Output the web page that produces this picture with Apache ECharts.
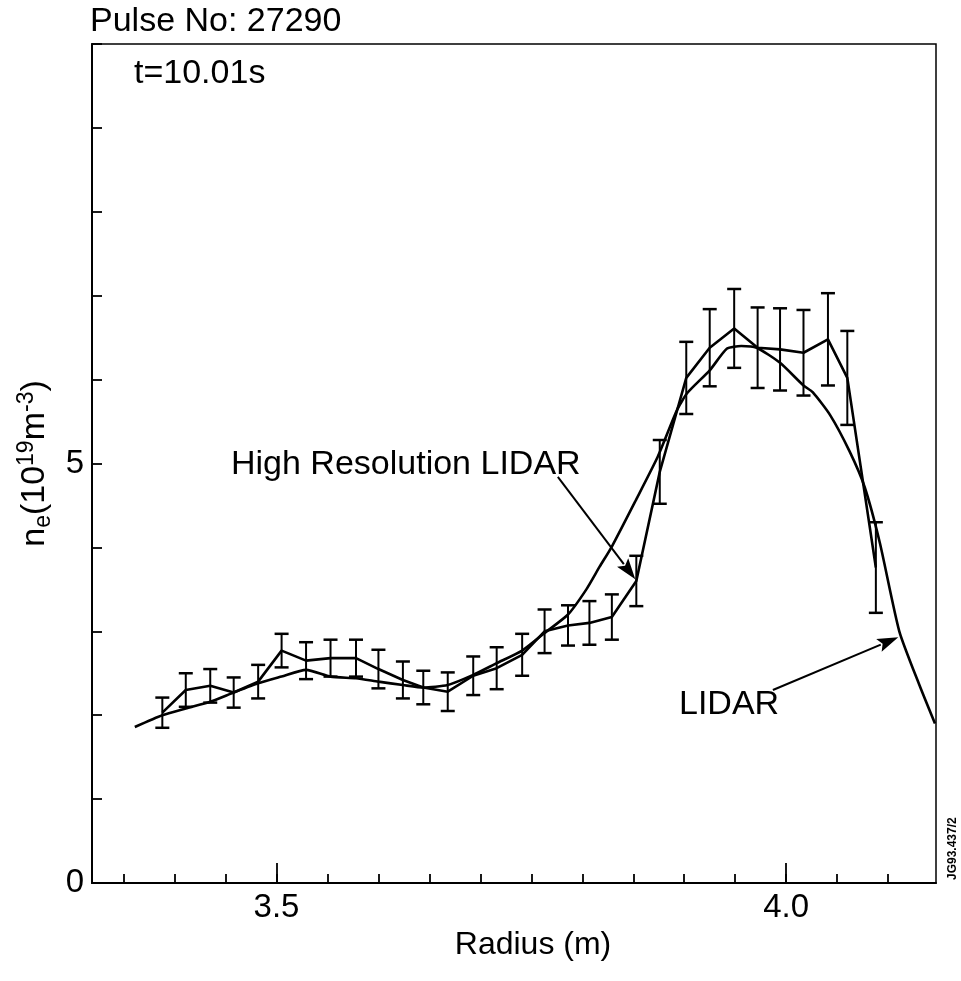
<!DOCTYPE html>
<html>
<head>
<meta charset="utf-8">
<script src="https://cdn.jsdelivr.net/npm/echarts@6/dist/echarts.min.js"></script>
<style>html,body{margin:0;padding:0;background:#fff}#c{width:961px;height:981px}</style>
</head>
<body>
<div id="c"></div>
<script>
// ---- data ----
const lidarR = [3.361, 3.388, 3.411, 3.435, 3.458, 3.482, 3.505, 3.529, 3.553, 3.578, 3.600, 3.624, 3.644, 3.668, 3.693, 3.716, 3.741, 3.763, 3.786, 3.804, 3.817, 3.829, 3.852, 3.874, 3.893, 3.903, 3.925, 3.942, 3.956, 3.971, 3.994, 4.017, 4.026, 4.043, 4.062, 4.077, 4.092, 4.111, 4.131, 4.146];
const lidarN = [1.86, 2.00, 2.08, 2.16, 2.27, 2.38, 2.46, 2.54, 2.46, 2.44, 2.40, 2.36, 2.33, 2.36, 2.48, 2.62, 2.77, 2.98, 3.20, 3.50, 3.77, 4.01, 4.55, 5.08, 5.64, 5.84, 6.11, 6.37, 6.40, 6.38, 6.20, 5.93, 5.85, 5.58, 5.15, 4.72, 4.05, 3.00, 2.35, 1.90];

const hrR = [3.388, 3.411, 3.435, 3.458, 3.482, 3.505, 3.529, 3.553, 3.578, 3.600, 3.624, 3.644, 3.668, 3.693, 3.716, 3.741, 3.763, 3.786, 3.807, 3.829, 3.853, 3.876, 3.902, 3.925, 3.949, 3.972, 3.994, 4.017, 4.041, 4.060, 4.088];
const hrN = [2.03, 2.30, 2.35, 2.27, 2.40, 2.77, 2.65, 2.68, 2.68, 2.55, 2.42, 2.33, 2.28, 2.47, 2.56, 2.72, 3.00, 3.07, 3.10, 3.17, 3.60, 4.90, 6.02, 6.38, 6.61, 6.38, 6.36, 6.32, 6.48, 6.02, 3.76];
const hrErr = [0.18, 0.20, 0.20, 0.18, 0.20, 0.20, 0.22, 0.22, 0.22, 0.23, 0.22, 0.20, 0.23, 0.23, 0.25, 0.25, 0.26, 0.24, 0.26, 0.27, 0.30, 0.38, 0.43, 0.46, 0.47, 0.48, 0.49, 0.51, 0.55, 0.56, 0.54];

const xTicks = [3.35, 3.40, 3.45, 3.50, 3.55, 3.60, 3.65, 3.70, 3.75, 3.80, 3.85, 3.90, 3.95, 4.00, 4.05, 4.10];
const xLabels = [3.5, 4.0];
const yLabels = [0, 5];

// annotation arrows: [fromR, fromN, toR, toN] in data coordinates
const arrows = [
  [3.776, 4.84, 3.852, 3.62],
  [3.987, 2.30, 4.110, 2.93]
];

// ---- chart ----
const FONT = "'Liberation Sans', Arial, Helvetica, sans-serif";
const chart = echarts.init(document.getElementById('c'), null, {renderer: 'canvas'});

const lidarData = lidarR.map((r, i) => [r, lidarN[i]]);
const hrData = hrR.map((r, i) => [r, hrN[i]]);
const errData = hrR.map((r, i) => [r, hrN[i], hrErr[i]]);

const option = {
  animation: false,
  backgroundColor: '#fff',
  grid: {left: 92, right: 25, top: 44, bottom: 98, show: true, borderColor: '#000', borderWidth: 1.5, backgroundColor: 'transparent'},
  xAxis: [{
    type: 'value', min: 3.319, max: 4.147,
    axisLine: {show: true, lineStyle: {color: '#000', width: 2}},
    axisTick: {show: true, inside: true, length: 9, customValues: xTicks, lineStyle: {color: '#000', width: 1.8}},
    axisLabel: {show: true, customValues: xLabels, formatter: v => Number(v).toFixed(1), color: '#000', fontSize: 33, fontFamily: FONT, margin: 8},
    splitLine: {show: false},
    name: 'Radius (m)', nameLocation: 'middle', nameGap: 38,
    nameTextStyle: {color: '#000', fontSize: 32, fontFamily: FONT, padding: [0, 0, 0, 38]}
  }, {
    type: 'value', min: 3.319, max: 4.147, position: 'bottom',
    axisLine: {show: false},
    axisTick: {show: true, inside: true, length: 20, customValues: xLabels, lineStyle: {color: '#000', width: 1.8}},
    axisLabel: {show: false},
    splitLine: {show: false}
  }],
  yAxis: {
    type: 'value', min: 0, max: 10, interval: 1,
    axisLine: {show: true, lineStyle: {color: '#000', width: 2}},
    axisTick: {show: true, inside: true, length: 10, lineStyle: {color: '#000', width: 1.8}},
    axisLabel: {show: true, customValues: yLabels, color: '#000', fontSize: 33, fontFamily: FONT, margin: 8},
    splitLine: {show: false},
    name: '{a|n}{sub|e}{a|(10}{sup|19}{a|m}{sup|-3}{a|)}',
    nameLocation: 'middle', nameRotate: 90, nameGap: 25,
    nameTextStyle: {
      color: '#000', fontFamily: FONT,
      rich: {
        a: {fontSize: 34, fontFamily: FONT, color: '#000', lineHeight: 40, verticalAlign: 'middle'},
        sub: {fontSize: 23, fontFamily: FONT, color: '#000', lineHeight: 22, verticalAlign: 'bottom'},
        sup: {fontSize: 23, fontFamily: FONT, color: '#000', lineHeight: 22, verticalAlign: 'top'}
      }
    }
  },
  graphic: [
    {type: 'text', left: 90, top: 5, style: {text: 'Pulse No: 27290', font: "34px " + FONT, fill: '#000'}},
    {type: 'text', left: 134, top: 57, style: {text: 't=10.01s', font: "34px " + FONT, fill: '#000'}},
    {type: 'text', left: 231, top: 448, style: {text: 'High Resolution LIDAR', font: "34px " + FONT, fill: '#000'}},
    {type: 'text', left: 679, top: 688, style: {text: 'LIDAR', font: "34px " + FONT, fill: '#000'}},
    {type: 'text', x: 959, y: 880, rotation: Math.PI / 2, style: {text: 'JG93.437/2', font: "bold 12px " + FONT, fill: '#000', textAlign: 'left', textVerticalAlign: 'bottom'}}
  ],
  series: [
    {
      name: 'LIDAR', type: 'line', data: lidarData, symbol: 'none', smooth: 0.2,
      lineStyle: {color: '#000', width: 2.6}, z: 3
    },
    {
      name: 'High Resolution LIDAR', type: 'line', data: hrData, symbol: 'none',
      lineStyle: {color: '#000', width: 2.6}, z: 3
    },
    {
      name: 'err', type: 'custom', data: errData, z: 4,
      renderItem: function (params, api) {
        const x = api.value(0), y = api.value(1), e = api.value(2);
        const t = api.coord([x, y + e]);
        const b = api.coord([x, y - e]);
        const w = 7;
        return {
          type: 'group',
          children: [
            {type: 'line', shape: {x1: t[0], y1: t[1], x2: b[0], y2: b[1]}, style: {stroke: '#000', lineWidth: 2}},
            {type: 'line', shape: {x1: t[0] - w, y1: t[1], x2: t[0] + w, y2: t[1]}, style: {stroke: '#000', lineWidth: 2.5}},
            {type: 'line', shape: {x1: b[0] - w, y1: b[1], x2: b[0] + w, y2: b[1]}, style: {stroke: '#000', lineWidth: 2.5}}
          ]
        };
      }
    },
    {
      name: 'arrows', type: 'custom', data: arrows, z: 5, silent: true,
      renderItem: function (params, api) {
        const p0 = api.coord([api.value(0), api.value(1)]);
        const p1 = api.coord([api.value(2), api.value(3)]);
        const dx = p1[0] - p0[0], dy = p1[1] - p0[1];
        const L = Math.sqrt(dx * dx + dy * dy);
        const ux = dx / L, uy = dy / L;
        const hl = 21, hw = 7;
        const bx = p1[0] - ux * hl, by = p1[1] - uy * hl;
        return {
          type: 'group',
          children: [
            {type: 'line', shape: {x1: p0[0], y1: p0[1], x2: bx + ux * 2, y2: by + uy * 2}, style: {stroke: '#000', lineWidth: 2}},
            {type: 'polygon', shape: {points: [[p1[0], p1[1]], [bx - uy * hw, by + ux * hw], [bx + ux * 4, by + uy * 4], [bx + uy * hw, by - ux * hw]]}, style: {fill: '#000'}}
          ]
        };
      }
    }
  ]
};
chart.setOption(option);
</script>
</body>
</html>
